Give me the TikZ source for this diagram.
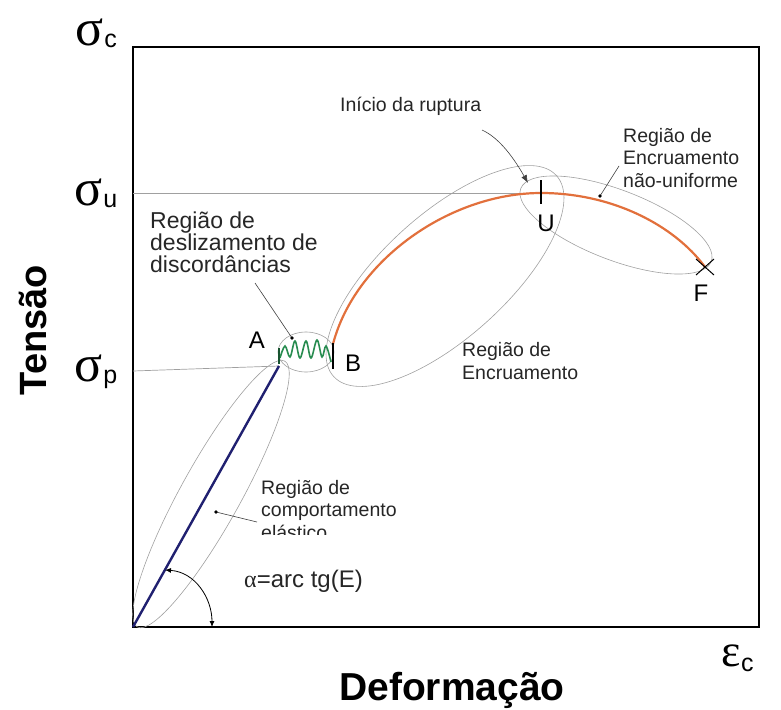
\documentclass[tikz,border=0pt]{standalone}
\usepackage{fontspec}
\setmainfont{Liberation Sans}
\newfontfamily\grego{Liberation Serif}
\usepackage{tikz}
\usetikzlibrary{arrows.meta}
\definecolor{azulesc}{RGB}{32,32,112}
\definecolor{verdew}{RGB}{40,140,80}
\definecolor{laranja}{RGB}{226,112,60}
\definecolor{cinzal}{RGB}{160,160,160}

\begin{document}
\begin{tikzpicture}[x=1pt,y=-1pt,
    texto/.style={font=\fontsize{19.5}{22.5}\selectfont, align=left, text=black!85, inner sep=0pt},
    letra/.style={font=\fontsize{24}{24}\selectfont, inner sep=0pt},
    regiao/.style={draw=cinzal, line width=0.6pt},
    guia/.style={draw=black!75, line width=0.6pt}]
  \useasboundingbox (0,0) rectangle (781,709);
  %画坐标框
  \draw[line width=1.6pt] (133,47) rectangle (759,627);
  %定义曲线上的点
  \coordinate (O) at (133,627);
  \coordinate (A) at (279,366);
  \coordinate (B) at (333,344);
  \coordinate (U) at (541,193);
  \coordinate (F) at (705,267);
  %灰色水平线
  \draw[cinzal, line width=0.7pt] (133,193) -- (U);
  \draw[cinzal, line width=0.7pt] (133,371) -- (A);
  %各区域的椭圆
  \draw[regiao, shift={(211,494)}, rotate=61] (0,0) ellipse (152pt and 30pt);
  \draw[regiao] (306,352) ellipse (28pt and 20pt);
  \draw[regiao, shift={(445,276)}, rotate=42] (0,0) ellipse (150pt and 62pt);
  \draw[regiao, shift={(616,225)}, rotate=-21] (0,0) ellipse (102pt and 35pt);
  %弹性段(蓝色直线)
  \draw[azulesc, line width=2.4pt] (O) -- (A);
  %滑移段(绿色波浪线)
  \draw[verdew, line width=1.6pt] plot[smooth, tension=0.6] coordinates {(280,358) (285,346) (290,357) (295,341) (300,358) (306,341) (311,358) (317,340) (322,357) (326,346) (331,362)};
  \draw[verdew!60!black, line width=1.6pt] (279,348) -- (279,364);
  %强化段(橙色曲线)
  \draw[laranja, line width=2.2pt] (B) .. controls (355,260) and (450,193) .. (U)
        .. controls (612,193) and (674,225) .. (F);
  %B, U 处的竖线和 F 处的叉
  \draw[line width=2pt] (333,343) -- (333,369);
  \draw[line width=2.4pt] (541,180) -- (541,204);
  \draw[line width=1pt] (696,259) -- (714,275) (696,275) -- (714,259);
  %点的名字
  \node[letra] (lA) at (257,340) {A};
  \node[letra] (lB) at (353,363) {B};
  \node[letra] (lU) at (546,223) {U};
  \node[letra] (lF) at (701,293) {F};
  %坐标轴的符号
  \node[inner sep=0pt] (sc) at (90,32) {{\grego\fontsize{52}{52}\selectfont σ}};
  \node[inner sep=0pt, anchor=west] (scs) at (sc.east) [yshift=-9pt] {\fontsize{25}{25}\selectfont c};
  \node[inner sep=0pt] (su) at (89,192) {{\grego\fontsize{52}{52}\selectfont σ}};
  \node[inner sep=0pt, anchor=west] (sus) at (su.east) [yshift=-9pt] {\fontsize{25}{25}\selectfont u};
  \node[inner sep=0pt] (sp) at (89,368) {{\grego\fontsize{52}{52}\selectfont σ}};
  \node[inner sep=0pt, anchor=west] (sps) at (sp.east) [yshift=-11pt] {\fontsize{25}{25}\selectfont p};
  \node[inner sep=0pt] (ec) at (731,656) {{\grego\fontsize{46}{46}\selectfont ε}};
  \node[inner sep=0pt, anchor=west] (ecs) at (ec.east) [yshift=-9pt] {\fontsize{25}{25}\selectfont c};
  %坐标轴的标题
  \node[font=\bfseries\fontsize{39}{39}\selectfont, inner sep=0pt, anchor=base] (defo) at (452,700) {Deformação};
  \node[font=\bfseries\fontsize{38}{38}\selectfont, inner sep=0pt, anchor=base, rotate=90] (tens) at (46,330) {Tensão};
  %区域说明文字
  \node[texto, font=\fontsize{23}{22}\selectfont, anchor=west] (desl) at (150,242) {Região de\\deslizamento de\\discordâncias};
  \node[texto, anchor=west] (rupt) at (340,106) {Início da ruptura};
  \node[texto, anchor=west] (naouni) at (623,158) {Região de\\Encruamento\\não-uniforme};
  \node[texto, anchor=west] (encr) at (462,361) {Região de\\Encruamento};
  \begin{scope}
    \clip (250,470) rectangle (430,534);
    \node[texto, anchor=west] (elast) at (261,510) {Região de\\comportamento\\elástico};
  \end{scope}
  \node[texto, font=\fontsize{24}{24}\selectfont, anchor=west] (alfa) at (244,581) {{\grego α}=arc tg(E)};
  %引线和小圆点
  \coordinate (pdesl) at (292,338);
  \coordinate (pnaouni) at (600,196);
  \coordinate (pelast) at (216,512);
  \coordinate (prupt) at (528,183);
  \coordinate (rupt0) at (482,130);
  \draw[guia] (255,283) -- (pdesl);
  \fill (pdesl) circle (1.8pt);
  \draw[guia] (619,166) -- (pnaouni);
  \fill (pnaouni) circle (1.8pt);
  \draw[guia] (257,522) -- (pelast);
  \fill (pelast) circle (1.8pt);
  \draw[guia, -{Latex[length=8pt,width=6pt]}] (rupt0) .. controls (500,138) and (515,160) .. (prupt);
  %角度 alpha 的弧线
  \coordinate (alfa1) at (165,570);
  \coordinate (alfa2) at (212,627);
  \draw[line width=0.8pt, {Latex[length=6pt,width=5pt]}-{Latex[length=6pt,width=5pt]}] (alfa1) .. controls (195,572) and (212,598) .. (alfa2);
\end{tikzpicture}
\end{document}
